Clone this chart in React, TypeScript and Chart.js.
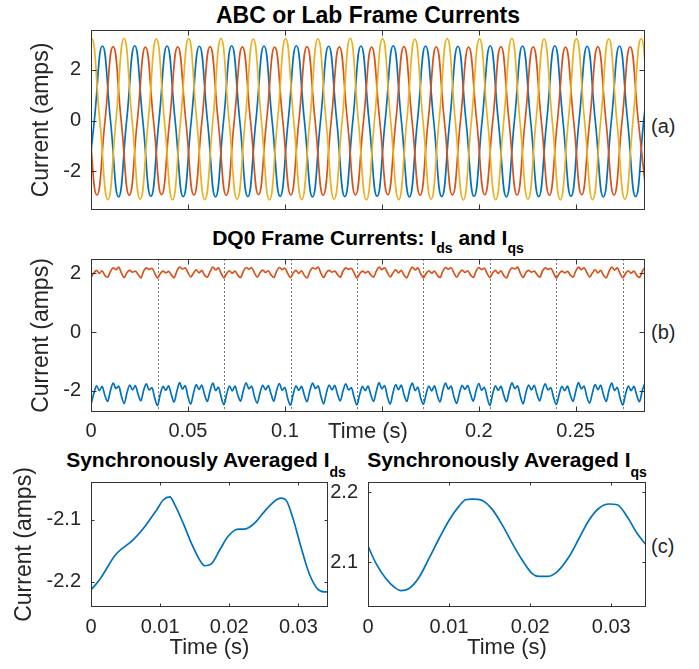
import React, { useEffect, useRef } from 'react';
import { Chart, registerables } from 'chart.js';

Chart.register(...registerables);

const FONT = "'Liberation Sans', Arial, Helvetica, sans-serif";
const TEXT = '#262626';
const BLUE = '#0072BD';
const ORANGE = '#D95319';
const YELLOW = '#EDB120';

// ---------- shared time axis (panels a, b) ----------
const TIME_MAX = 0.285714;
const timeTicks = [0, 0.05, 0.1, 0.15, 0.2, 0.25];
const timeTickLabelsA = ['', '', '', '', '', ''];
const timeTickLabelsB = ['0', '0.05', '0.1', '', '0.2', '0.25'];

// ---------- panel (a): ABC currents, extrema read per half cycle ----------
const ABC_HALF_PERIOD = 1 / 120;
const yellowFirstTime = -0.00797; // starts at a trough
const yellowExtrema = [
  -3.1, 3.22, -3.11, 3.23, -3.1, 3.21, -3.12, 3.22, -3.11, 3.23, -3.1, 3.2,
  -3.12, 3.22, -3.11, 3.21, -3.1, 3.23, -3.12, 3.22, -3.11, 3.2, -3.1, 3.22,
  -3.12, 3.21, -3.11, 3.23, -3.1, 3.2, -3.12, 3.22, -3.11, 3.21, -3.1, 3.22, -3.11,
];
const blueFirstTime = -0.00245; // starts at a trough
const blueExtrema = [
  -2.99, 2.93, -3.0, 2.94, -2.98, 2.93, -2.99, 2.92, -3.0, 2.94, -2.99, 2.93,
  -2.98, 2.94, -3.0, 2.92, -2.99, 2.93, -2.98, 2.94, -3.0, 2.93, -2.99, 2.92,
  -2.98, 2.94, -3.0, 2.93, -2.99, 2.94, -2.98, 2.92, -3.0, 2.93, -2.99, 2.94,
];
const redFirstTime = -0.00527; // starts at a peak
const redExtrema = [
  2.9, -2.93, 2.91, -2.94, 2.89, -2.92, 2.9, -2.93, 2.91, -2.94, 2.9, -2.92,
  2.89, -2.93, 2.91, -2.94, 2.9, -2.93, 2.89, -2.92, 2.91, -2.94, 2.9, -2.93,
  2.89, -2.92, 2.91, -2.93, 2.9, -2.94, 2.89, -2.92, 2.91, -2.93, 2.9, -2.94,
];
const abcYTicks = [-2, 0, 2];
const abcYTickLabels = ['-2', '0', '2'];

// ---------- panel (b): DQ0 currents ----------
const DQ_SAMPLE_DT = 0.00142857;
const syncMarks = [0.0343, 0.0686, 0.1029, 0.1371, 0.1714, 0.2057, 0.24, 0.2743];
const idsSamples = [
  -2.46, -2.1, -1.83, -1.99, -1.85, -2.15, -2.36, -2.0, -1.74, -1.92, -1.84, -2.18, -2.43, -2.06, -1.8, -1.97, -1.82, -2.12, -2.34, -1.98, -1.76, -1.97, -1.89, -2.24,
  -2.5, -2.12, -1.85, -1.98, -1.83, -2.13, -2.38, -2.01, -1.72, -1.94, -1.82, -2.2, -2.45, -2.08, -1.79, -1.95, -1.8, -2.13, -2.36, -2.0, -1.74, -1.99, -1.87, -2.22,
  -2.47, -2.1, -1.84, -2.0, -1.84, -2.15, -2.35, -1.99, -1.73, -1.93, -1.84, -2.19, -2.42, -2.07, -1.81, -1.96, -1.82, -2.11, -2.35, -1.99, -1.75, -1.98, -1.88, -2.25,
  -2.49, -2.11, -1.83, -1.98, -1.85, -2.14, -2.37, -2.0, -1.74, -1.92, -1.83, -2.18, -2.44, -2.06, -1.8, -1.97, -1.81, -2.12, -2.34, -1.99, -1.76, -1.97, -1.89, -2.23,
  -2.48, -2.12, -1.85, -1.99, -1.84, -2.13, -2.36, -2.01, -1.72, -1.93, -1.82, -2.2, -2.45, -2.07, -1.79, -1.96, -1.8, -2.13, -2.36, -1.98, -1.74, -1.99, -1.87, -2.24,
  -2.46, -2.1, -1.84, -2.0, -1.83, -2.15, -2.38, -1.99, -1.74, -1.94, -1.84, -2.19, -2.43, -2.08, -1.81, -1.95, -1.82, -2.11, -2.35, -2.0, -1.75, -1.98, -1.88, -2.22,
  -2.5, -2.11, -1.83, -1.98, -1.85, -2.14, -2.37, -2.0, -1.73, -1.92, -1.83, -2.18, -2.44, -2.06, -1.8, -1.97, -1.81, -2.12, -2.34, -1.99, -1.76, -1.97, -1.89, -2.23,
  -2.47, -2.12, -1.85, -1.99, -1.84, -2.13, -2.36, -2.01, -1.72, -1.93, -1.84, -2.2, -2.42, -2.07, -1.79, -1.96, -1.8, -2.13, -2.36, -1.98, -1.74, -1.99, -1.88, -2.24,
  -2.48, -2.1, -1.84, -1.99, -1.85, -2.14, -2.37, -2.0, -1.73,
];
const iqsSamples = [
  1.86, 2.01, 2.1, 2.0, 2.09, 1.93, 1.87, 2.06, 2.19, 2.13, 2.21, 2.01, 1.86, 2.03, 2.1, 2.04, 2.08, 1.96, 1.85, 2.08, 2.19, 2.14, 2.17, 2.01,
  1.84, 1.99, 2.08, 2.02, 2.07, 1.95, 1.85, 2.08, 2.21, 2.15, 2.19, 2.03, 1.88, 2.01, 2.12, 2.02, 2.1, 1.94, 1.87, 2.06, 2.21, 2.12, 2.19, 1.99,
  1.85, 2.0, 2.09, 2.01, 2.08, 1.94, 1.86, 2.07, 2.2, 2.14, 2.2, 2.02, 1.87, 2.02, 2.11, 2.03, 2.09, 1.95, 1.86, 2.07, 2.2, 2.13, 2.18, 2.0,
  1.86, 2.01, 2.1, 2.0, 2.09, 1.93, 1.85, 2.06, 2.19, 2.15, 2.21, 2.01, 1.86, 2.03, 2.1, 2.04, 2.08, 1.96, 1.87, 2.08, 2.19, 2.14, 2.17, 2.01,
  1.84, 1.99, 2.08, 2.02, 2.07, 1.95, 1.87, 2.08, 2.21, 2.13, 2.19, 2.03, 1.88, 2.01, 2.12, 2.02, 2.1, 1.94, 1.85, 2.06, 2.21, 2.12, 2.19, 1.99,
  1.85, 2.0, 2.09, 2.01, 2.08, 1.94, 1.86, 2.07, 2.2, 2.14, 2.2, 2.02, 1.87, 2.02, 2.11, 2.03, 2.09, 1.95, 1.86, 2.07, 2.2, 2.13, 2.18, 2.0,
  1.86, 2.01, 2.1, 2.0, 2.09, 1.93, 1.85, 2.06, 2.19, 2.15, 2.21, 2.01, 1.86, 2.03, 2.1, 2.04, 2.08, 1.96, 1.87, 2.08, 2.19, 2.14, 2.17, 2.01,
  1.84, 1.99, 2.08, 2.02, 2.07, 1.95, 1.87, 2.08, 2.21, 2.13, 2.19, 2.03, 1.88, 2.01, 2.12, 2.02, 2.1, 1.94, 1.85, 2.06, 2.21, 2.12, 2.19, 1.99,
  1.85, 2.0, 2.09, 2.01, 2.08, 1.94, 1.86, 2.07, 2.2,
];
const dqYTicks = [-2, 0, 2];
const dqYTickLabels = ['-2', '0', '2'];

// ---------- panel (c): synchronously averaged currents ----------
const SYNC_PERIOD = 0.0342857;
const avgXTicks = [0, 0.01, 0.02, 0.03];
const avgXTickLabels = ['0', '0.01', '0.02', '0.03'];
const idsAvgTime = [0, 0.00134, 0.0035, 0.00613, 0.00757, 0.0095, 0.01045, 0.01141, 0.01213, 0.01332, 0.01453, 0.01573, 0.01645, 0.0174, 0.0186, 0.0198, 0.02076, 0.02148, 0.0222, 0.02292, 0.02388, 0.02483, 0.0258, 0.02676, 0.02748, 0.0282, 0.02915, 0.03036, 0.03155, 0.03275, 0.03371, 0.03429];
const idsAvgValue = [-2.213, -2.195, -2.157, -2.132, -2.114, -2.084, -2.068, -2.063, -2.076, -2.105, -2.138, -2.165, -2.174, -2.171, -2.149, -2.127, -2.117, -2.115, -2.115, -2.112, -2.103, -2.09, -2.078, -2.068, -2.065, -2.068, -2.095, -2.143, -2.186, -2.211, -2.216, -2.216];
const iqsAvgTime = [0, 0.00097, 0.0022, 0.00322, 0.00405, 0.00507, 0.0063, 0.00754, 0.00877, 0.01, 0.01123, 0.01205, 0.01287, 0.0141, 0.01534, 0.01657, 0.0178, 0.01903, 0.02026, 0.02109, 0.02211, 0.02335, 0.02479, 0.02602, 0.02725, 0.02848, 0.02972, 0.03074, 0.03197, 0.0332, 0.03429];
const iqsAvgValue = [2.123, 2.099, 2.077, 2.065, 2.06, 2.063, 2.079, 2.106, 2.134, 2.16, 2.18, 2.189, 2.19, 2.188, 2.175, 2.153, 2.127, 2.103, 2.084, 2.08, 2.08, 2.087, 2.108, 2.134, 2.16, 2.177, 2.183, 2.182, 2.165, 2.141, 2.125];
const idsAvgYTicks = [-2.2, -2.1];
const idsAvgYTickLabels = ['-2.2', '-2.1'];
const iqsAvgYTicks = [2.1, 2.2];
const iqsAvgYTickLabels = ['2.1', '2.2'];

// ---------- helpers ----------
function phasePoints(firstTime: number, extrema: number[]) {
  const pts: { x: number; y: number }[] = [];
  extrema.forEach((v, i) => {
    const t = firstTime + i * ABC_HALF_PERIOD;
    pts.push({ x: t, y: v });
    if (i < extrema.length - 1) pts.push({ x: t + ABC_HALF_PERIOD / 2, y: 0 });
  });
  return pts;
}
function samplePoints(values: number[], dt: number) {
  return values.map((v, i) => ({ x: i * dt, y: v }));
}
function pairPoints(xs: number[], ys: number[]) {
  return xs.map((x, i) => ({ x, y: ys[i] }));
}

const matlabAxes = {
  id: 'matlabAxes',
  beforeDatasetsDraw(chart: any, _a: any, opts: any) {
    const marks = (opts && opts.marks) || [];
    if (!marks.length) return;
    const { ctx, chartArea: a } = chart;
    const xs = chart.scales.x;
    ctx.save();
    ctx.strokeStyle = '#555';
    ctx.lineWidth = 0.8;
    ctx.setLineDash([2, 2]);
    for (const m of marks) {
      const x = Math.round(xs.getPixelForValue(m)) + 0.5;
      ctx.beginPath();
      ctx.moveTo(x, a.top);
      ctx.lineTo(x, a.bottom);
      ctx.stroke();
    }
    ctx.restore();
  },
  afterDatasetsDraw(chart: any, _a: any, opts: any) {
    const { ctx, chartArea: a } = chart;
    const xs = chart.scales.x;
    const ys = chart.scales.y;
    const len = (opts && opts.tickLength) || 5;
    const L = Math.round(a.left) + 0.5;
    const R = Math.round(a.right) - 0.5;
    const T = Math.round(a.top) + 0.5;
    const B = Math.round(a.bottom) - 0.5;
    ctx.save();
    ctx.strokeStyle = '#333';
    ctx.lineWidth = 1;
    ctx.beginPath();
    for (const t of xs.ticks) {
      const x = Math.round(xs.getPixelForValue(t.value)) + 0.5;
      ctx.moveTo(x, B);
      ctx.lineTo(x, B - len);
      ctx.moveTo(x, T);
      ctx.lineTo(x, T + len);
    }
    for (const t of ys.ticks) {
      const y = Math.round(ys.getPixelForValue(t.value)) + 0.5;
      ctx.moveTo(L, y);
      ctx.lineTo(L + len, y);
      ctx.moveTo(R, y);
      ctx.lineTo(R - len, y);
    }
    ctx.stroke();
    ctx.strokeRect(L, T, R - L, B - T);
    ctx.restore();
  },
};

function axis(o: any) {
  return {
    type: 'linear',
    min: o.min,
    max: o.max,
    afterBuildTicks: (s: any) => {
      s.ticks = o.ticks.map((v: number) => ({ value: v }));
    },
    afterFit: (s: any) => {
      if (o.horizontal) s.height = o.fit;
      else s.width = o.fit;
    },
    grid: { display: false, drawTicks: false },
    border: { display: false },
    ticks: {
      autoSkip: false,
      maxRotation: 0,
      minRotation: 0,
      padding: o.pad,
      color: TEXT,
      font: { family: FONT, size: 20 },
      callback: (_v: any, i: number) => o.labels[i],
    },
    title: o.title
      ? { display: true, text: o.title, color: TEXT, font: { family: FONT, size: o.titleSize }, padding: o.titlePad }
      : { display: false },
  };
}

function baseOptions(padding: any, tickLength: number, marks: number[], scales: any) {
  return {
    animation: false,
    responsive: false,
    maintainAspectRatio: false,
    layout: { padding },
    elements: { point: { radius: 0 } },
    plugins: {
      legend: { display: false },
      tooltip: { enabled: false },
      matlabAxes: { tickLength, marks },
    },
    scales,
  };
}

function lineSet(data: any[], color: string, extra: any = {}) {
  return { data, borderColor: color, backgroundColor: color, borderWidth: 1.7, fill: false, pointRadius: 0, ...extra };
}

const configA = () => ({
  type: 'line',
  data: {
    datasets: [
      lineSet(phasePoints(yellowFirstTime, yellowExtrema), YELLOW, { tension: 0.5 }),
      lineSet(phasePoints(redFirstTime, redExtrema), ORANGE, { tension: 0.5 }),
      lineSet(phasePoints(blueFirstTime, blueExtrema), BLUE, { tension: 0.5 }),
    ],
  },
  options: baseOptions({ left: 0, right: 54, top: 30, bottom: 0 }, 5, [], {
    x: axis({ min: 0, max: TIME_MAX, ticks: timeTicks, labels: timeTickLabelsA, horizontal: true, fit: 11, pad: 0 }),
    y: axis({ min: -3.52, max: 3.56, ticks: abcYTicks, labels: abcYTickLabels, horizontal: false, fit: 91, pad: 10, title: 'Current (amps)', titleSize: 23, titlePad: { top: 28, bottom: 0 } }),
  }),
  plugins: [matlabAxes],
});

const configB = () => ({
  type: 'line',
  data: {
    datasets: [
      lineSet(samplePoints(iqsSamples, DQ_SAMPLE_DT), ORANGE, { cubicInterpolationMode: 'monotone' }),
      lineSet(samplePoints(idsSamples, DQ_SAMPLE_DT), BLUE, { cubicInterpolationMode: 'monotone' }),
    ],
  },
  options: baseOptions({ left: 0, right: 54, top: 24, bottom: 0 }, 5, syncMarks, {
    x: axis({ min: 0, max: TIME_MAX, ticks: timeTicks, labels: timeTickLabelsB, horizontal: true, fit: 38, pad: 7.5, title: 'Time (s)', titleSize: 22, titlePad: { top: 0, bottom: 5.3 } }),
    y: axis({ min: -2.72, max: 2.49, ticks: dqYTicks, labels: dqYTickLabels, horizontal: false, fit: 91, pad: 10, title: 'Current (amps)', titleSize: 23, titlePad: { top: 28, bottom: 0 } }),
  }),
  plugins: [matlabAxes],
});

const configCLeft = () => ({
  type: 'line',
  data: { datasets: [lineSet(pairPoints(idsAvgTime, idsAvgValue), BLUE, { cubicInterpolationMode: 'monotone' })] },
  options: baseOptions({ left: 0, right: 17, top: 42, bottom: 0 }, 3, [], {
    x: axis({ min: 0, max: SYNC_PERIOD, ticks: avgXTicks, labels: avgXTickLabels, horizontal: true, fit: 62, pad: 8, title: 'Time (s)', titleSize: 22, titlePad: { top: 0, bottom: 7.8 } }),
    y: axis({ min: -2.2405, max: -2.039, ticks: idsAvgYTicks, labels: idsAvgYTickLabels, horizontal: false, fit: 91, pad: 10, title: 'Current (amps)', titleSize: 23, titlePad: { top: 11, bottom: 0 } }),
  }),
  plugins: [matlabAxes],
});

const configCRight = () => ({
  type: 'line',
  data: { datasets: [lineSet(pairPoints(iqsAvgTime, iqsAvgValue), BLUE, { cubicInterpolationMode: 'monotone' })] },
  options: baseOptions({ left: 0, right: 53, top: 42, bottom: 0 }, 3, [], {
    x: axis({ min: 0, max: SYNC_PERIOD, ticks: avgXTicks, labels: avgXTickLabels, horizontal: true, fit: 62, pad: 8, title: 'Time (s)', titleSize: 22, titlePad: { top: 0, bottom: 7.8 } }),
    y: axis({ min: 2.0366, max: 2.2143, ticks: iqsAvgYTicks, labels: iqsAvgYTickLabels, horizontal: false, fit: 48, pad: 10 }),
  }),
  plugins: [matlabAxes],
});

function ChartCanvas(props: { left: number; top: number; width: number; height: number; config: () => any }) {
  const ref = useRef<HTMLCanvasElement | null>(null);
  useEffect(() => {
    const chart = new Chart(ref.current as HTMLCanvasElement, props.config());
    return () => chart.destroy();
  }, []);
  return (
    <canvas
      ref={ref}
      width={props.width}
      height={props.height}
      style={{ position: 'absolute', left: props.left, top: props.top, width: props.width, height: props.height }}
    />
  );
}

const subStyle = (drop: number) => ({ fontSize: 14, verticalAlign: -drop, lineHeight: '14px' });

export default function App() {
  return (
    <div
      style={{
        position: 'absolute', left: 0, top: 0, width: 699, height: 669, background: '#fff',
        overflow: 'hidden', fontFamily: FONT, color: '#000',
      }}
    >
      <div style={{ position: 'absolute', left: 0, width: 736, top: 4, textAlign: 'center', font: `bold 23px/23px ${FONT}`, whiteSpace: 'nowrap' }}>
        ABC or Lab Frame Currents
      </div>
      <div style={{ position: 'absolute', left: 0, width: 736, top: 227, textAlign: 'center', font: `bold 21px/21px ${FONT}`, whiteSpace: 'nowrap' }}>
        DQ0 Frame Currents: I<span style={subStyle(8)}>ds</span> and I<span style={subStyle(8)}>qs</span>
      </div>
      <div style={{ position: 'absolute', left: 0, width: 412, top: 449, textAlign: 'center', font: `bold 21px/21px ${FONT}`, whiteSpace: 'nowrap' }}>
        Synchronously Averaged I<span style={subStyle(10)}>ds</span>
      </div>
      <div style={{ position: 'absolute', left: 307, width: 400, top: 449, textAlign: 'center', font: `bold 21px/21px ${FONT}`, whiteSpace: 'nowrap' }}>
        Synchronously Averaged I<span style={subStyle(10)}>qs</span>
      </div>
      <div style={{ position: 'absolute', left: 651, top: 116, font: `20px/20px ${FONT}`, color: TEXT }}>(a)</div>
      <div style={{ position: 'absolute', left: 651, top: 322, font: `20px/20px ${FONT}`, color: TEXT }}>(b)</div>
      <div style={{ position: 'absolute', left: 651, top: 536, font: `20px/20px ${FONT}`, color: TEXT }}>(c)</div>
      <ChartCanvas left={0} top={0} width={699} height={232} config={configA} />
      <ChartCanvas left={0} top={235} width={699} height={215} config={configB} />
      <ChartCanvas left={0} top={440} width={345} height={229} config={configCLeft} />
      <ChartCanvas left={320} top={440} width={379} height={229} config={configCRight} />
    </div>
  );
}
